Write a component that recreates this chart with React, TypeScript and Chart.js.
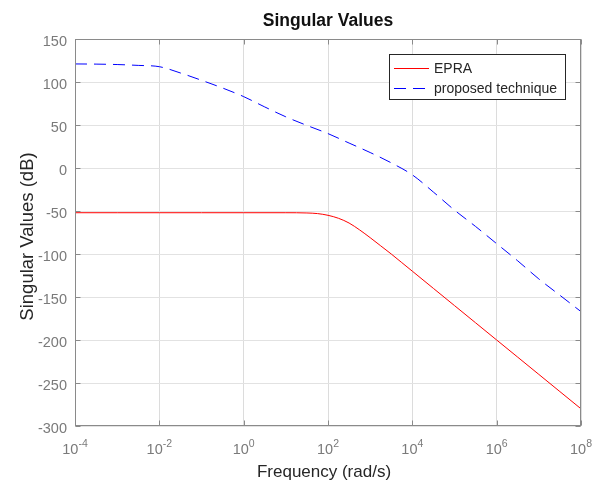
import React, { useEffect, useRef } from "react";
import { Chart, registerables } from "chart.js";

Chart.register(...registerables);

// ---- Data ----
const epraLogFreq = [-4, -3, -2, -1, 0, 1, 1.5, 1.75, 2, 2.25, 2.5, 2.75, 3, 3.25, 3.5, 3.75, 4, 4.5, 5, 5.5, 6, 6.5, 7, 7.5, 8];
const epraDb = [-52, -52, -52, -52, -52, -52, -52.3, -53, -55, -58.5, -64, -72, -81, -90.5, -100, -110, -120, -140, -160, -180, -200, -220, -240, -260, -280];

const proposedLogFreq = [-4, -3.5, -3, -2.5, -2, -1.5, -1, -0.5, 0, 0.5, 1, 1.5, 2, 2.5, 3, 3.5, 4, 4.5, 5, 5.5, 6, 6.5, 7, 7.5, 8];
const proposedDb = [121, 120.8, 120.3, 119.3, 117.8, 110.5, 102, 93, 83, 71, 59.5, 49.5, 40, 29, 18, 6, -8, -28, -49, -68, -88, -108, -129, -148, -167];

const xTickExponents = [-4, -2, 0, 2, 4, 6, 8];
const yTicks = [-300, -250, -200, -150, -100, -50, 0, 50, 100, 150];

const seriesLabels = ["EPRA", "proposed technique"];
const titleText = "Singular Values";
const xTitle = "Frequency (rad/s)";
const yTitle = "Singular Values (dB)";

const FONT = "'Liberation Sans', Arial, Helvetica, sans-serif";

const decorPlugin = {
  id: "matlabDecor",
  afterDraw(chart: any) {
    const ctx: CanvasRenderingContext2D = chart.ctx;
    const area = chart.chartArea;
    const xs = chart.scales.x;
    const ys = chart.scales.y;
    ctx.save();

    // frame
    ctx.strokeStyle = "#8a8a8a";
    ctx.lineWidth = 1;
    ctx.setLineDash([]);
    const L = Math.round(area.left) + 0.5;
    const R = Math.round(area.right) - 0.5;
    const T = Math.round(area.top) + 0.5;
    const B = Math.round(area.bottom) - 0.5;
    ctx.strokeRect(L, T, R - L, B - T);

    // inward tick marks
    const tl = 5;
    ctx.beginPath();
    xTickExponents.forEach((e) => {
      const px = Math.round(xs.getPixelForValue(Math.pow(10, e))) + 0.5;
      ctx.moveTo(px, B);
      ctx.lineTo(px, B - tl);
      ctx.moveTo(px, T);
      ctx.lineTo(px, T + tl);
    });
    yTicks.forEach((v) => {
      const py = Math.round(ys.getPixelForValue(v)) + 0.5;
      ctx.moveTo(L, py);
      ctx.lineTo(L + tl, py);
      ctx.moveTo(R, py);
      ctx.lineTo(R - tl, py);
    });
    ctx.stroke();

    // y tick labels
    ctx.fillStyle = "#7a7a7a";
    ctx.font = `14.5px ${FONT}`;
    ctx.textAlign = "right";
    ctx.textBaseline = "alphabetic";
    yTicks.forEach((v) => {
      const py = ys.getPixelForValue(v);
      ctx.fillText(String(v), area.left - 8, py + 7);
    });

    // x tick labels 10^e
    xTickExponents.forEach((e) => {
      const px = xs.getPixelForValue(Math.pow(10, e));
      ctx.font = `14.5px ${FONT}`;
      const w1 = ctx.measureText("10").width;
      ctx.font = `10.5px ${FONT}`;
      const expStr = String(e);
      const w2 = ctx.measureText(expStr).width;
      const start = px - (w1 + w2) / 2;
      ctx.textAlign = "left";
      ctx.font = `14.5px ${FONT}`;
      ctx.fillText("10", start, area.bottom + 28);
      ctx.font = `10.5px ${FONT}`;
      ctx.fillText(expStr, start + w1, area.bottom + 21);
    });

    // title
    const cx = (area.left + area.right) / 2;
    ctx.fillStyle = "#111111";
    ctx.font = `bold 17.5px ${FONT}`;
    ctx.textAlign = "center";
    ctx.fillText(titleText, cx, 26);

    // x title
    ctx.fillStyle = "#262626";
    ctx.font = `17px ${FONT}`;
    ctx.fillText(xTitle, cx - 4, 477);

    // y title
    ctx.save();
    ctx.translate(33, (area.top + area.bottom) / 2 + 4);
    ctx.rotate(-Math.PI / 2);
    ctx.font = `18.5px ${FONT}`;
    ctx.textAlign = "center";
    ctx.fillText(yTitle, 0, 0);
    ctx.restore();

    // legend
    const lx = 389.5, ly = 54.5, lw = 176, lh = 45;
    ctx.fillStyle = "#ffffff";
    ctx.fillRect(lx, ly, lw, lh);
    ctx.strokeStyle = "#262626";
    ctx.lineWidth = 1;
    ctx.strokeRect(lx, ly, lw, lh);
    const datasets = chart.data.datasets;
    const rowY = [68, 88];
    datasets.forEach((ds: any, i: number) => {
      ctx.beginPath();
      ctx.strokeStyle = ds.borderColor;
      ctx.lineWidth = 1;
      ctx.setLineDash(ds.borderDash || []);
      ctx.moveTo(394, rowY[i] + 0.5);
      ctx.lineTo(429, rowY[i] + 0.5);
      ctx.stroke();
      ctx.setLineDash([]);
      ctx.fillStyle = "#262626";
      ctx.font = `14px ${FONT}`;
      ctx.textAlign = "left";
      ctx.textBaseline = "middle";
      ctx.fillText(ds.label, 434, rowY[i] + 1);
    });

    ctx.restore();
  },
};

export default function App() {
  const canvasRef = useRef<HTMLCanvasElement | null>(null);

  useEffect(() => {
    document.body.style.margin = "0";
    const canvas = canvasRef.current;
    if (!canvas) return;
    const chart = new Chart(canvas, {
      type: "line",
      data: {
        datasets: [
          {
            label: seriesLabels[0],
            data: epraLogFreq.map((e, i) => ({ x: Math.pow(10, e), y: epraDb[i] })),
            borderColor: "#ff0000",
            borderWidth: 1,
            pointRadius: 0,
            fill: false,
            cubicInterpolationMode: "monotone",
          },
          {
            label: seriesLabels[1],
            data: proposedLogFreq.map((e, i) => ({ x: Math.pow(10, e), y: proposedDb[i] })),
            borderColor: "#0000ff",
            borderWidth: 1,
            borderDash: [12, 7],
            pointRadius: 0,
            fill: false,
            cubicInterpolationMode: "monotone",
          },
        ],
      },
      options: {
        responsive: false,
        animation: false,
        devicePixelRatio: 1,
        layout: { padding: { top: 39, right: 14, left: 0, bottom: 0 } },
        plugins: {
          legend: { display: false },
          tooltip: { enabled: false },
          title: { display: false },
        },
        scales: {
          x: {
            type: "logarithmic",
            min: 1e-4,
            max: 1e8,
            afterBuildTicks: (s: any) => {
              s.ticks = xTickExponents.map((e) => ({ value: Math.pow(10, e) }));
            },
            afterFit: (s: any) => {
              s.height = 58;
            },
            ticks: { display: false },
            grid: { color: "#dcdcdc", drawTicks: false },
            border: { display: false },
          },
          y: {
            type: "linear",
            min: -300,
            max: 150,
            afterBuildTicks: (s: any) => {
              s.ticks = yTicks.map((v) => ({ value: v }));
            },
            afterFit: (s: any) => {
              s.width = 75;
            },
            ticks: { display: false },
            grid: { color: "#e2e2e2", drawTicks: false },
            border: { display: false },
          },
        },
      } as any,
      plugins: [decorPlugin],
    });
    return () => chart.destroy();
  }, []);

  return (
    <div style={{ position: "absolute", left: 0, top: 0, width: 595, height: 484, background: "#fff" }}>
      <canvas ref={canvasRef} width={595} height={484} style={{ width: 595, height: 484 }} />
    </div>
  );
}
